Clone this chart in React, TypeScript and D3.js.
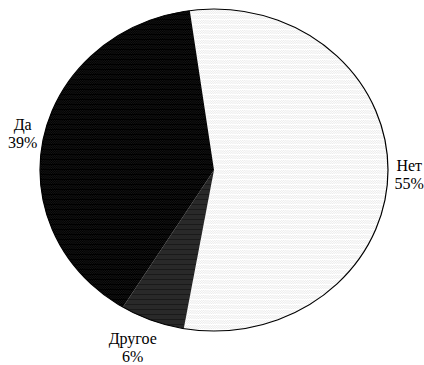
import React from "react";
import * as d3 from "d3";

const categories = ["Нет", "Другое", "Да"];
const values = [55, 6, 39];
const percentLabels = ["55%", "6%", "39%"];

const WIDTH = 424;
const HEIGHT = 365;
const CX = 214;
const CY = 170;
const RX = 174;
const RY = 161;
const START = (-8 * Math.PI) / 180;

const fills = ["url(#patNo)", "url(#patOther)", "url(#patYes)"];

export default function App() {
	const data = categories.map((c, i) => ({ name: c, value: values[i], pct: percentLabels[i] }));

	const pie = d3
		.pie<any>()
		.sort(null)
		.value((d) => d.value)
		.startAngle(START)
		.endAngle(START + 2 * Math.PI);

	const arcs = pie(data);
	const arc = d3.arc<any>().innerRadius(0).outerRadius(RY);

	const sx = RX / RY;

	// labels sit just outside the ellipse, at the middle of each slice
	const labels = arcs.map((a) => {
		const mid = (a.startAngle + a.endAngle) / 2;
		const dx = Math.sin(mid);
		const dy = -Math.cos(mid);
		const px = CX + RX * dx;
		const py = CY + RY * dy;
		const w = Math.max(a.data.name.length, a.data.pct.length) * 9.5;
		const h = 40;
		const gap = 7;
		const x = px + dx * gap + Math.sign(dx) * Math.sqrt(Math.abs(dx)) * (w / 2);
		const y = py + dy * (gap + h / 2);
		return { x, y, name: a.data.name, pct: a.data.pct };
	});

	return (
		<svg width={WIDTH} height={HEIGHT} style={{ position: "absolute", left: 0, top: 0 }}>
			<defs>
				<pattern id="patNo" width="2" height="5" patternUnits="userSpaceOnUse">
					<rect width="2" height="5" fill="#ffffff" />
					<rect x="0" y="0" width="1" height="1" fill="#ebebeb" />
					<rect x="1" y="1" width="1" height="1" fill="#ebebeb" />
					<rect x="0" y="2" width="1" height="1" fill="#ebebeb" />
					<rect x="1" y="3" width="1" height="1" fill="#ebebeb" />
				</pattern>
				<pattern id="patYes" width="2" height="5" patternUnits="userSpaceOnUse">
					<rect width="2" height="5" fill="#000000" />
					<rect x="0" y="0" width="1" height="1" fill="#141414" />
					<rect x="1" y="1" width="1" height="1" fill="#141414" />
					<rect x="0" y="2" width="1" height="1" fill="#141414" />
					<rect x="1" y="3" width="1" height="1" fill="#141414" />
				</pattern>
				<pattern id="patOther" width="2" height="5" patternUnits="userSpaceOnUse">
					<rect width="2" height="5" fill="#292929" />
					<rect x="0" y="4" width="2" height="1" fill="#1a1a1a" />
				</pattern>
			</defs>
			<g transform={`translate(${CX},${CY}) scale(${sx},1)`}>
				{arcs.map((a, i) => (
					<path key={i} d={arc(a) || ""} fill={fills[i]} stroke="none" />
				))}
			</g>
			<ellipse cx={CX} cy={CY} rx={RX} ry={RY} fill="none" stroke="#000" strokeWidth={1.2} />
			{labels.map((l, i) => (
				<text key={i} x={l.x} y={l.y} textAnchor="middle" fontSize={16} fill="#000" fontFamily="Liberation Serif, Times New Roman, serif">
					<tspan x={l.x} dy="-2">{l.name}</tspan>
					<tspan x={l.x} dy="18">{l.pct}</tspan>
				</text>
			))}
		</svg>
	);
}
